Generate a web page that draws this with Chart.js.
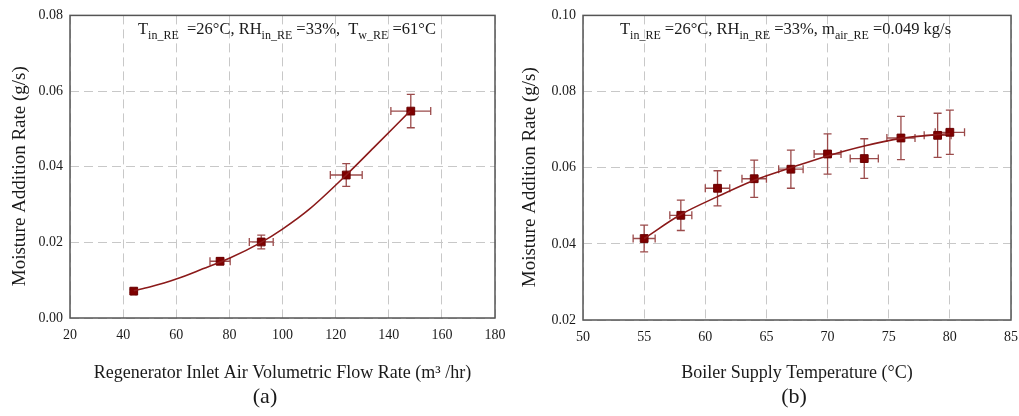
<!DOCTYPE html>
<html>
<head>
<meta charset="utf-8">
<script src="https://cdn.jsdelivr.net/npm/chart.js@4.4.1/dist/chart.umd.min.js"></script>
<style>
    html, body { margin: 0; padding: 0; background: #fff; }
    #wrap { position: relative; width: 1019px; height: 416px; }
    .caja { position: absolute; top: 0; height: 416px; }
</style>
</head>
<body>
<div id="wrap">
    <div class="caja" style="left:0;width:510px"><canvas id="graficaA"></canvas></div>
    <div class="caja" style="left:510px;width:509px"><canvas id="graficaB"></canvas></div>
</div>
<script>
/* =========================================================
    DATOS
========================================================= */

// (a) caudal de aire vs tasa de humedad
const caudalA   = [44, 76.5, 92, 124, 148.3];
const humedadA  = [0.0071, 0.0150, 0.0201, 0.0378, 0.0547];
const errCaudalA  = [0.8, 3.8, 4.5, 6, 7.5];
const errHumedadA = [0.0004, 0.0008, 0.0018, 0.003, 0.0044];
// curva de ajuste
const ajusteXA = [44, 50, 60, 70, 80, 92, 100, 110, 124, 135, 148];
const ajusteYA = [0.0072, 0.0082, 0.0103, 0.0130, 0.0158, 0.0200, 0.0235, 0.0287, 0.0378, 0.0455, 0.0547];

// (b) temperatura de caldera vs tasa de humedad
const tempB     = [55, 58, 61, 64, 67, 70, 73, 76, 79, 80];
const humedadB  = [0.0414, 0.0475, 0.0546, 0.0571, 0.0596, 0.0636, 0.0624, 0.0678, 0.0685, 0.0693];
const errTempB    = [0.9, 0.9, 1.0, 1.0, 1.0, 1.1, 1.15, 1.15, 1.1, 1.2];
const errHumedadB = [0.0035, 0.004, 0.0046, 0.0049, 0.005, 0.0053, 0.0052, 0.0057, 0.0058, 0.0058];
const ajusteXB = [55, 58, 61, 64, 67, 70, 73, 76, 79, 80];
const ajusteYB = [0.0414, 0.0477, 0.0524, 0.0567, 0.0600, 0.0631, 0.0657, 0.0677, 0.0687, 0.0689];

/* =========================================================
    UTILIDADES
========================================================= */

const FUENTE = "'Liberation Serif', 'DejaVu Serif', serif";
const ROJO = "#7f0000";

const puntos = (xs, ys) => xs.map((x, i) => ({ x: x, y: ys[i] }));

// texto con subíndices: [texto, esSub]
function textoSub(ctx, partes, x, y) {
    ctx.save();
    ctx.fillStyle = "#1a1a1a";
    ctx.textBaseline = "alphabetic";
    ctx.textAlign = "left";
    let px = x;
    partes.forEach(p => {
        ctx.font = (p[1] ? "12px " : "16.5px ") + FUENTE;
        ctx.fillText(p[0], px, p[1] ? y + 5 : y);
        px += ctx.measureText(p[0]).width;
    });
    ctx.restore();
}

// barras de error, marco y textos
const extras = {
    id: "extras",
    beforeDatasetsDraw(chart, args, o) {
        const ctx = chart.ctx;
        const xs = chart.scales.x, ys = chart.scales.y;
        ctx.save();
        ctx.strokeStyle = "#9b4b4b";
        ctx.lineWidth = 1.3;
        o.x.forEach((v, i) => {
            const cx = xs.getPixelForValue(v), cy = ys.getPixelForValue(o.y[i]);
            const x1 = xs.getPixelForValue(v - o.ex[i]), x2 = xs.getPixelForValue(v + o.ex[i]);
            const y1 = ys.getPixelForValue(o.y[i] - o.ey[i]), y2 = ys.getPixelForValue(o.y[i] + o.ey[i]);
            ctx.beginPath();
            ctx.moveTo(x1, cy); ctx.lineTo(x2, cy);
            ctx.moveTo(x1, cy - 4); ctx.lineTo(x1, cy + 4);
            ctx.moveTo(x2, cy - 4); ctx.lineTo(x2, cy + 4);
            ctx.moveTo(cx, y1); ctx.lineTo(cx, y2);
            ctx.moveTo(cx - 4, y1); ctx.lineTo(cx + 4, y1);
            ctx.moveTo(cx - 4, y2); ctx.lineTo(cx + 4, y2);
            ctx.stroke();
        });
        ctx.restore();
    },
    afterDraw(chart, args, o) {
        const ctx = chart.ctx;
        const a = chart.chartArea;
        ctx.save();
        ctx.strokeStyle = "#555";
        ctx.lineWidth = 1.5;
        ctx.strokeRect(a.left, a.top, a.right - a.left, a.bottom - a.top);
        ctx.fillStyle = "#1a1a1a";
        ctx.font = "22px " + FUENTE;
        ctx.textAlign = "center";
        ctx.textBaseline = "middle";
        ctx.fillText(o.panel, o.panelX, 397);
        ctx.restore();
        textoSub(ctx, o.nota, o.notaX, 34);
    }
};

function ejes(xmin, xmax, xpaso, ymin, ymax, ypaso, tituloX, anchoY, altoX) {
    const rejilla = { color: "#c8c8c8", lineWidth: 1, tickLength: 0 };
    const borde = { display: false, dash: [9, 5] };
    return {
        x: {
            type: "linear", min: xmin, max: xmax,
            grid: rejilla, border: borde,
            ticks: { stepSize: xpaso, padding: 9, color: "#1a1a1a", font: { family: FUENTE, size: 14 } },
            title: { display: true, text: tituloX, color: "#1a1a1a", font: { family: FUENTE, size: 18 }, padding: { top: 0, bottom: 32 } },
            afterFit: s => { s.height = altoX; s.paddingRight = 0; }
        },
        y: {
            type: "linear", min: ymin, max: ymax,
            grid: rejilla, border: borde,
            ticks: { stepSize: ypaso, padding: 7, color: "#1a1a1a", font: { family: FUENTE, size: 14 },
                     callback: v => v.toFixed(2) },
            // espacios finales para bajar un poco el título, como en el original
            title: { display: true, text: "Moisture Addition Rate (g/s)\u00a0\u00a0\u00a0\u00a0", color: "#1a1a1a", font: { family: FUENTE, size: 19 }, padding: { top: 9, bottom: 0 } },
            afterFit: s => { s.width = anchoY; }
        }
    };
}

function series(ajX, ajY, xs, ys) {
    return [
        {
            data: puntos(ajX, ajY),
            showLine: true,
            cubicInterpolationMode: "monotone",
            borderColor: "#8b1a1a",
            borderWidth: 1.6,
            pointRadius: 0
        },
        {
            data: puntos(xs, ys),
            pointStyle: "rect",
            pointRadius: 5.5,
            backgroundColor: ROJO,
            borderColor: "#6a0000",
            borderWidth: 1
        }
    ];
}

/* =====================================================
    GRAFICA (a)
===================================================== */
new Chart(document.getElementById("graficaA"), {
    type: "scatter",
    data: { datasets: series(ajusteXA, ajusteYA, caudalA, humedadA) },
    options: {
        responsive: true,
        maintainAspectRatio: false,
        animation: false,
        layout: { padding: { top: 13, right: 15, left: 0, bottom: 0 } },
        scales: ejes(20, 180, 20, 0, 0.08, 0.02, "Regenerator Inlet Air Volumetric Flow Rate (m³ /hr)", 70, 98),
        plugins: {
            legend: { display: false },
            tooltip: { enabled: false },
            extras: {
                x: caudalA, y: humedadA, ex: errCaudalA, ey: errHumedadA,
                panel: "(a)", panelX: 265, notaX: 138,
                nota: [["T", 0], ["in_RE", 1], ["  =26°C, RH", 0], ["in_RE", 1], [" =33%,  T", 0], ["w_RE", 1], [" =61°C", 0]]
            }
        }
    },
    plugins: [extras]
});

/* =====================================================
    GRAFICA (b)
===================================================== */
new Chart(document.getElementById("graficaB"), {
    type: "scatter",
    data: { datasets: series(ajusteXB, ajusteYB, tempB, humedadB) },
    options: {
        responsive: true,
        maintainAspectRatio: false,
        animation: false,
        layout: { padding: { top: 12, right: 8, left: 0, bottom: 0 } },
        scales: ejes(50, 85, 5, 0.02, 0.10, 0.02, "Boiler Supply Temperature (°C)", 73, 96),
        plugins: {
            legend: { display: false },
            tooltip: { enabled: false },
            extras: {
                x: tempB, y: humedadB, ex: errTempB, ey: errHumedadB,
                panel: "(b)", panelX: 284, notaX: 110,
                nota: [["T", 0], ["in_RE", 1], [" =26°C, RH", 0], ["in_RE", 1], [" =33%, m", 0], ["air_RE", 1], [" =0.049 kg/s", 0]]
            }
        }
    },
    plugins: [extras]
});
</script>
</body>
</html>
